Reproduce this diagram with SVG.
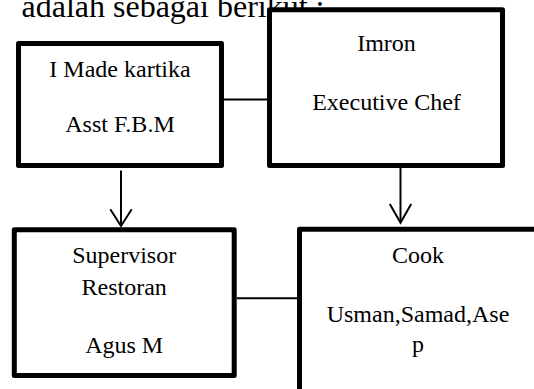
<svg xmlns="http://www.w3.org/2000/svg" width="534" height="389" viewBox="0 0 534 389">
  <style>
    .box { fill: #ffffff; stroke: #000000; stroke-width: 5; stroke-linejoin: round; }
    .lbl { font-family: "Liberation Serif", "Times New Roman", serif; font-size: 24px; fill: #000000; text-anchor: middle; }
    .title { font-family: "Liberation Serif", "Times New Roman", serif; font-size: 32px; fill: #000000; }
    .conn { stroke: #000000; stroke-width: 2; fill: none; }
  </style>
  <rect x="0" y="0" width="534" height="389" fill="#ffffff"/>
  <text class="title" x="21.5" y="16.5">adalah sebagai berikut :</text>

  <g id="node-imade">
    <rect class="box" x="18.5" y="43.5" width="203" height="122"/>
    <text class="lbl" x="120" y="77.3">I Made kartika</text>
    <text class="lbl" x="120" y="131.7">Asst F.B.M</text>
  </g>

  <g id="node-imron">
    <rect class="box" x="269.5" y="9.8" width="233" height="155.7"/>
    <text class="lbl" x="386.5" y="50.7">Imron</text>
    <text class="lbl" x="386.5" y="110">Executive Chef</text>
  </g>

  <g id="node-supervisor">
    <rect class="box" x="14.3" y="229.8" width="219.9" height="145.8"/>
    <text class="lbl" x="124.2" y="263.3">Supervisor</text>
    <text class="lbl" x="124.2" y="295">Restoran</text>
    <text class="lbl" x="124.2" y="352.7">Agus M</text>
  </g>

  <g id="node-cook">
    <rect class="box" x="299.5" y="229.2" width="237" height="170"/>
    <text class="lbl" x="418" y="262.7">Cook</text>
    <text class="lbl" x="418" y="321.7">Usman,Samad,Ase</text>
    <text class="lbl" x="418" y="351.7">p</text>
  </g>

  <g id="connectors">
    <line class="conn" x1="224" y1="99.5" x2="267" y2="99.5"/>
    <line class="conn" x1="236.7" y1="298.3" x2="297" y2="298.3"/>
    <line class="conn" x1="121" y1="170.5" x2="121" y2="225.5"/>
    <path class="conn" d="M110.3,209.3 L121,226 L131.7,209.3"/>
    <line class="conn" x1="400.5" y1="168" x2="400.5" y2="222"/>
    <path class="conn" d="M389.8,204 L400.5,222.7 L411.2,204"/>
  </g>
</svg>
